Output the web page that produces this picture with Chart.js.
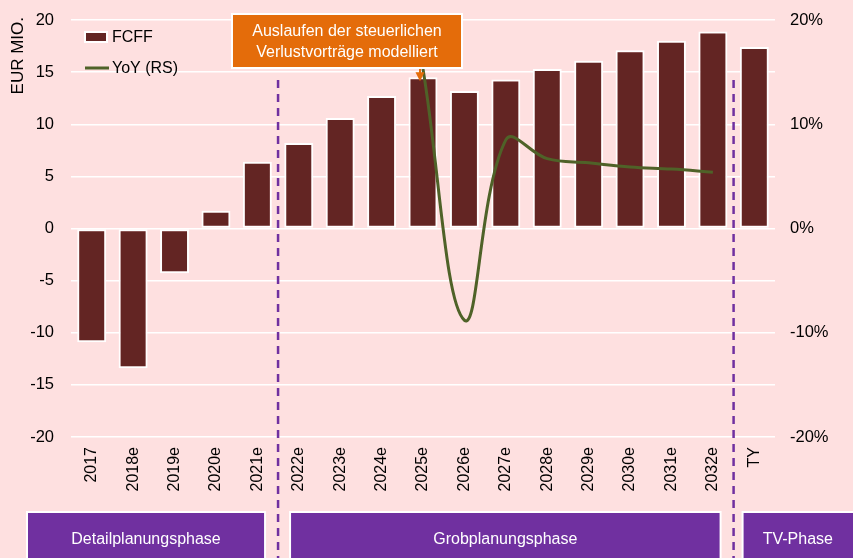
<!DOCTYPE html>
<html>
<head>
<meta charset="utf-8">
<script src="https://cdn.jsdelivr.net/npm/chart.js@4"></script>
<style>
  html, body { margin: 0; padding: 0; background: #FEE0E0; }
  #wrap { width: 853px; height: 558px; position: relative; }
</style>
</head>
<body>
<div id="wrap"><canvas id="fcffChart"></canvas></div>
<script>
// Data
const years = ['2017', '2018e', '2019e', '2020e', '2021e', '2022e', '2023e', '2024e', '2025e',
  '2026e', '2027e', '2028e', '2029e', '2030e', '2031e', '2032e', 'TY'];
const fcff = [-10.9, -13.4, -4.3, 1.7, 6.4, 8.2, 10.6, 12.7, 14.5, 13.2, 14.3, 15.3, 16.1, 17.1, 18.0, 18.9, 17.4];
const yoy = [null, null, null, null, null, null, null, null, 15.3, -8.8, 8.5, 6.7, 6.3, 5.9, 5.7, 5.4, null];
const leftTicks = [-20, -15, -10, -5, 0, 5, 10, 15, 20];
const rightTicks = [-20, -10, 0, 10, 20];
const phases = ['Detailplanungsphase', 'Grobplanungsphase', 'TV-Phase'];
const noteLines = ['Auslaufen der steuerlichen', 'Verlustvorträge modelliert'];

const FONT = 'Liberation Sans, Arial, sans-serif';
const BAR = '#632523';
const LINE = '#4F6228';
const PURPLE = '#7030A0';
const ORANGE = '#E46C0A';

// background, axis title, legend, dashed phase borders, note box, phase boxes
const decor = {
  id: 'decor',
  beforeDraw(chart) {
    const c = chart.ctx;
    c.save();
    c.fillStyle = '#FEE0E0';
    c.fillRect(0, 0, chart.width, chart.height);
    c.restore();
  },
  afterDraw(chart) {
    const c = chart.ctx;
    const x = chart.scales.x;
    const y = chart.scales.y;
    c.save();

    // y axis title
    c.save();
    c.translate(18, 17);
    c.rotate(-Math.PI / 2);
    c.font = '17px ' + FONT;
    c.fillStyle = '#000';
    c.textAlign = 'right';
    c.textBaseline = 'middle';
    c.fillText('EUR MIO.', 0, 0);
    c.restore();

    // legend
    c.font = '16px ' + FONT;
    c.textBaseline = 'middle';
    c.fillStyle = '#fff';
    c.fillRect(84, 31, 24, 12);
    c.fillStyle = BAR;
    c.fillRect(86, 33, 20, 8);
    c.fillStyle = '#000';
    c.fillText('FCFF', 112, 38);
    c.strokeStyle = LINE;
    c.lineWidth = 3;
    c.beginPath();
    c.moveTo(85, 68);
    c.lineTo(109, 68);
    c.stroke();
    c.fillText('YoY (RS)', 112, 69);

    // dashed borders between phases
    const b1 = (x.getPixelForValue(4) + x.getPixelForValue(5)) / 2;
    const b2 = (x.getPixelForValue(15) + x.getPixelForValue(16)) / 2;
    c.strokeStyle = PURPLE;
    c.lineWidth = 2.5;
    c.setLineDash([8, 6]);
    [b1, b2].forEach(bx => {
      c.beginPath();
      c.moveTo(bx, 80);
      c.lineTo(bx, chart.height);
      c.stroke();
    });
    c.setLineDash([]);

    // note box with arrow to 2025e
    const ax = x.getPixelForValue(8) - 3;
    const ay = y.getPixelForValue(fcff[8]) + 4;
    c.fillStyle = '#fff';
    c.fillRect(231, 13, 232, 56);
    c.fillStyle = ORANGE;
    c.fillRect(233, 15, 228, 52);
    c.strokeStyle = ORANGE;
    c.lineWidth = 2;
    c.beginPath();
    c.moveTo(ax, 69);
    c.lineTo(ax, ay - 6);
    c.stroke();
    c.beginPath();
    c.moveTo(ax - 4.5, ay - 9);
    c.lineTo(ax + 4.5, ay - 9);
    c.lineTo(ax, ay);
    c.closePath();
    c.fill();
    c.fillStyle = '#fff';
    c.textAlign = 'center';
    c.fillText(noteLines[0], 347, 32);
    c.fillText(noteLines[1], 347, 53);

    // phase boxes
    const boxes = [[26, b1 - 12], [b1 + 11, b2 - 12], [b2 + 8, chart.width + 5]];
    boxes.forEach((bx, i) => {
      c.fillStyle = '#fff';
      c.fillRect(bx[0], 511, bx[1] - bx[0], 50);
      c.fillStyle = PURPLE;
      c.fillRect(bx[0] + 2, 513, bx[1] - bx[0] - 4, 50);
      c.fillStyle = '#fff';
      c.font = '16px ' + FONT;
      c.fillText(phases[i], (bx[0] + Math.min(bx[1], chart.width + 40)) / 2 + (i === 2 ? -2 : 0), 540);
    });
    c.restore();
  }
};

const noPad = s => { s.paddingTop = 0; s.paddingBottom = 0; };

const ctx = document.getElementById('fcffChart').getContext('2d');
const fcffChart = new Chart(ctx, {
  type: 'bar',
  data: {
    labels: years,
    datasets: [{
      label: 'YoY (RS)',
      type: 'line',
      data: yoy,
      yAxisID: 'y1',
      borderColor: LINE,
      borderWidth: 3,
      pointRadius: 0,
      tension: 0.4,
      order: 0
    }, {
      label: 'FCFF',
      data: fcff,
      yAxisID: 'y',
      backgroundColor: BAR,
      borderColor: '#fff',
      borderWidth: 2,
      borderSkipped: false,
      categoryPercentage: 1,
      barPercentage: 0.7,
      order: 1
    }]
  },
  options: {
    responsive: true,
    maintainAspectRatio: false,
    animation: false,
    layout: { padding: { top: 20, left: 0, right: 0, bottom: 0 } },
    plugins: {
      legend: { display: false },
      tooltip: { enabled: false }
    },
    scales: {
      x: {
        grid: { display: false, drawTicks: false },
        border: { display: false },
        ticks: {
          color: '#000',
          font: { family: FONT, size: 16 },
          maxRotation: 90,
          minRotation: 90,
          padding: 10
        },
        afterFit(s) { s.height = 121; }
      },
      y: {
        position: 'left',
        min: -20,
        max: 20,
        afterBuildTicks(s) { s.ticks = leftTicks.map(v => ({ value: v })); },
        grid: { color: '#fff', lineWidth: 1.5, drawTicks: false },
        border: { display: false },
        ticks: { color: '#000', font: { family: FONT, size: 16.5 }, padding: 17 },
        afterFit(s) { s.width = 71; noPad(s); }
      },
      y1: {
        position: 'right',
        min: -20,
        max: 20,
        afterBuildTicks(s) { s.ticks = rightTicks.map(v => ({ value: v })); },
        grid: { display: false, drawTicks: false },
        border: { display: false },
        ticks: {
          color: '#000',
          font: { family: FONT, size: 16.5 },
          padding: 15,
          callback: v => v + '%'
        },
        afterFit(s) { s.width = 78; noPad(s); }
      }
    }
  },
  plugins: [decor]
});
</script>
</body>
</html>
